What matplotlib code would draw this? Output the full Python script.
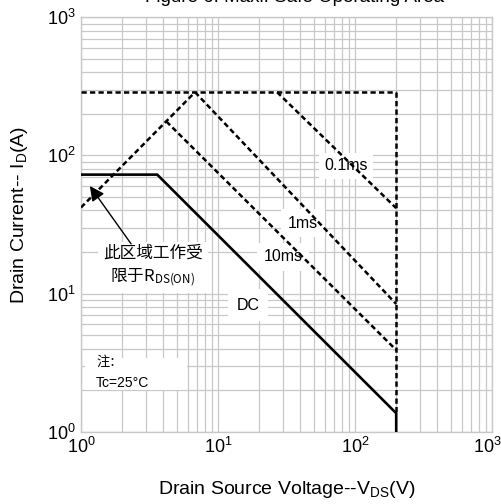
import matplotlib
matplotlib.use("Agg")
import matplotlib.pyplot as plt
from matplotlib.ticker import LogLocator, NullFormatter
from matplotlib.transforms import ScaledTranslation

plt.rcParams['font.family'] = ['Liberation Sans', 'Noto Sans CJK SC', 'DejaVu Sans']
plt.rcParams['mathtext.fontset'] = 'custom'
plt.rcParams['mathtext.rm'] = 'Liberation Sans'
plt.rcParams['mathtext.it'] = 'Liberation Sans:italic'
plt.rcParams['mathtext.bf'] = 'Liberation Sans:bold'

# Safe operating area boundaries (V_DS in volts, I_D in amps)
rds_v = [1.0, 6.8]
rds_i = [42.0, 287.0]
top_v = [1.0, 200.0]
top_i = [287.0, 287.0]
vmax_v = [200.0, 200.0]
vmax_i = [287.0, 1.36]
p01ms_v = [27.0, 200.0]
p01ms_i = [287.0, 41.5]
p1ms_v = [6.8, 200.0]
p1ms_i = [287.0, 8.4]
p10ms_v = [4.2, 200.0]
p10ms_i = [176.0, 3.9]
dc_v = [1.0, 3.6, 200.0, 200.0]
dc_i = [72.6, 72.6, 1.36, 1.0]

grid_color = '#c8c8c8'
dash = (0, (2.1, 1.3))

fig = plt.figure(figsize=(5.02, 5.04), dpi=100)
ax = fig.add_axes([0.1614, 0.1435, 0.8186, 0.8222])
ax.set_xscale('log')
ax.set_yscale('log')
ax.set_xlim(1, 1000)
ax.set_ylim(1, 1000)

ax.xaxis.set_major_locator(LogLocator(base=10))
ax.yaxis.set_major_locator(LogLocator(base=10))
ax.xaxis.set_minor_locator(LogLocator(base=10, subs=range(2, 10)))
ax.yaxis.set_minor_locator(LogLocator(base=10, subs=range(2, 10)))
ax.xaxis.set_minor_formatter(NullFormatter())
ax.yaxis.set_minor_formatter(NullFormatter())
ax.grid(True, which='both', color=grid_color, linewidth=0.9)
ax.set_axisbelow(True)
for s in ax.spines.values():
    s.set_color(grid_color)
    s.set_linewidth(1.0)
ax.tick_params(which='both', length=0, labelsize=13, pad=4)

kw = dict(color='black', linewidth=1.8, linestyle=dash, zorder=5)
ax.plot(rds_v, rds_i, **kw)
ax.plot(top_v, top_i, **kw)
ax.plot(vmax_v, vmax_i, **kw)
ax.plot(p01ms_v, p01ms_i, **kw)
ax.plot(p1ms_v, p1ms_i, **kw)
ax.plot(p10ms_v, p10ms_i, **kw)
ax.plot(dc_v, dc_i, color='black', linewidth=1.9, zorder=5, solid_joinstyle='miter')

def boxed(pad):
    return dict(facecolor='white', edgecolor='none', pad=pad)

ax.text(86.0, 84.0, '0.1ms', fontsize=11.5, ha='center', va='center', bbox=boxed(4), zorder=3)
ax.text(41.7, 32.4, '1ms', fontsize=11.5, ha='center', va='center', bbox=boxed(5), zorder=3)
ax.text(29.8, 18.4, '10ms', fontsize=11.5, ha='center', va='center', bbox=boxed(5), zorder=3)
ax.text(16.6, 8.26, 'DC', fontsize=11.5, ha='center', va='center', bbox=boxed(6), zorder=3)

ax.text(3.35, 15.8, '此区域工作受\n限于R$_{\\mathregular{DS(ON)}}$', fontsize=12,
        family=['Noto Sans CJK SC', 'Liberation Sans'], ha='center', va='center',
        linespacing=1.25, bbox=boxed(4), zorder=3)
ax.annotate('', xy=(1.16, 60.0), xytext=(2.32, 22.9),
            arrowprops=dict(arrowstyle='-|>', color='black', lw=1.0,
                            mutation_scale=22, shrinkA=0, shrinkB=0), zorder=6)

# note block with a plain white backing over the grid
ax.fill_between([1.07, 5.9], 2.0, 3.42, color='white', zorder=2.5, linewidth=0)
ax.text(1.29, 3.2, '注：', fontsize=9.5, family=['Noto Sans CJK SC', 'Liberation Sans'],
        ha='left', va='center', zorder=3)
ax.text(1.29, 2.25, 'Tc=25°C', fontsize=10, ha='left', va='center', zorder=3)

ax.set_xlabel('Drain Source Voltage--V$_{\\mathregular{DS}}$(V)', fontsize=14)
ax.set_ylabel('Drain Current-- I$_{\\mathregular{D}}$(A)', fontsize=14)
ax.xaxis.set_label_coords(0.5, -0.115)
ax.yaxis.set_label_coords(-0.124, 0.523)

fig.text(0.586, 1 - 2.5 / 504.0, 'Figure 6. Maxi. Safe Operating Area', fontsize=13.5,
         ha='center', va='baseline')

# nudge the rightmost x tick label so it stays inside the figure
fig.canvas.draw()
for tick in ax.xaxis.get_major_ticks():
    if abs(tick.get_loc() - 1000) < 1e-6:
        tick.label1.set_transform(tick.label1.get_transform()
                                  + ScaledTranslation(-3 / 72, 0, fig.dpi_scale_trans))

fig.savefig('out.png', dpi=100)
